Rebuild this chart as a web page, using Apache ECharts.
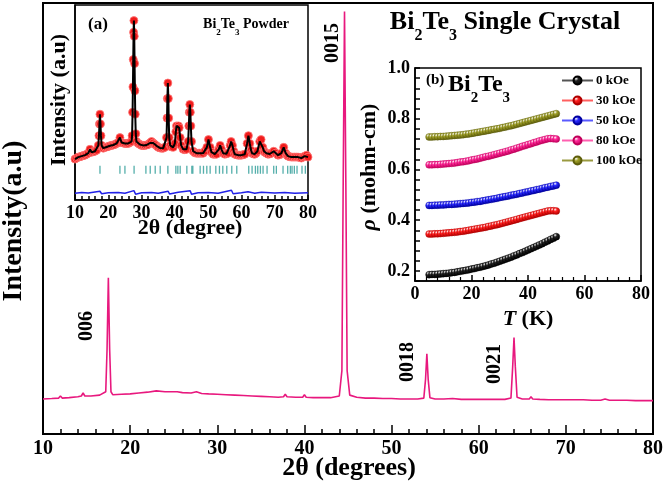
<!DOCTYPE html>
<html>
<head>
<meta charset="utf-8">
<script src="https://cdn.jsdelivr.net/npm/echarts@6/dist/echarts.min.js"></script>
<style>
html, body { margin: 0; padding: 0; background: #fff; }
#chart { width: 666px; height: 488px; }
</style>
</head>
<body>
<div id="chart"></div>
<script>
// 单晶 XRD 主图
var mainTheta = [10, 11, 11.8, 12, 12.2, 13, 14, 14.4, 14.6, 14.8, 15.5, 16.5, 17.2, 17.35, 17.5, 17.65, 17.8, 18,
    19, 20, 21, 22, 23, 24, 25, 25.2, 25.4, 26, 27, 27.6, 28.2, 29, 30, 31, 32, 33, 34, 35, 36, 37, 37.6, 37.8, 38,
    39, 39.8, 40, 40.2, 41, 42, 43, 44, 44.3, 44.45, 44.6, 44.75, 44.9, 45.2, 46, 47, 48, 49, 50, 51, 52, 53, 53.7,
    53.9, 54.05, 54.2, 54.4, 55, 56, 57, 58, 59, 60, 61, 62, 63, 63.7, 63.9, 64.05, 64.2, 64.4, 65, 65.8, 66, 66.2,
    67, 68, 69, 70, 71, 72, 73, 74, 74.5, 75, 76, 77, 78, 79, 80];
var mainIntensity = [0.083, 0.084, 0.085, 0.09, 0.085, 0.086, 0.088, 0.09, 0.097, 0.09, 0.09, 0.092, 0.1, 0.2, 0.37, 0.2, 0.1, 0.093,
    0.094, 0.095, 0.097, 0.099, 0.102, 0.1, 0.1, 0.103, 0.1, 0.098, 0.097, 0.1, 0.096, 0.095, 0.094, 0.093, 0.092, 0.091, 0.09, 0.089, 0.088, 0.087, 0.088, 0.094, 0.088,
    0.087, 0.087, 0.093, 0.087, 0.086, 0.086, 0.086, 0.09, 0.15, 0.6, 1.0, 0.6, 0.15, 0.092, 0.087, 0.085, 0.085, 0.084, 0.084, 0.083, 0.083, 0.083, 0.085,
    0.13, 0.19, 0.13, 0.086, 0.083, 0.083, 0.084, 0.082, 0.082, 0.082, 0.082, 0.082, 0.082, 0.085, 0.16, 0.228, 0.16, 0.087, 0.083, 0.083, 0.088, 0.083,
    0.082, 0.081, 0.081, 0.081, 0.081, 0.081, 0.08, 0.08, 0.083, 0.08, 0.08, 0.08, 0.079, 0.079, 0.079];
var peakNames = ['006', '0015', '0018', '0021'];

// 粉末 XRD (插图 a)
var powderTheta = [10, 10.5, 11, 11.5, 12, 12.5, 13, 13.5, 14, 14.5, 15, 15.5, 16, 16.5, 17, 17.2, 17.35, 17.5, 17.65, 17.8, 18,
    18.5, 19, 19.5, 20, 20.5, 21, 21.5, 22, 22.5, 23, 23.5, 24, 24.5, 25, 25.5, 26, 26.5, 27, 27.15, 27.3, 27.4, 27.5, 27.6,
    27.7, 27.8, 27.9, 28, 28.1, 28.25, 28.45, 29, 29.5, 30, 30.5, 31, 31.5, 32, 32.5, 33, 33.5, 34, 34.5, 35, 35.5, 36,
    36.5, 37, 37.5, 37.65, 37.75, 37.9, 38.05, 38.15, 38.3, 38.6, 39, 39.5, 40, 40.3, 40.5, 40.8, 41.1, 41.3, 41.6, 41.9,
    42.5, 43, 43.5, 44, 44.2, 44.35, 44.5, 44.65, 44.8, 45, 45.5, 46, 46.5, 47, 47.5, 48, 48.5, 49, 49.6, 50.1, 50.6,
    51, 51.5, 52, 52.5, 53.2, 53.6, 54, 54.5, 55, 55.5, 56, 56.6, 56.9, 57.3, 57.7, 58, 58.5, 59, 59.5, 60, 60.5, 61,
    61.7, 62.1, 62.5, 62.9, 63.2, 63.6, 64, 64.4, 64.8, 65.5, 65.9, 66.4, 66.8, 67, 67.5, 68, 68.5, 69, 69.7, 70.3, 71,
    71.5, 72, 72.7, 73.3, 73.7, 74, 74.5, 75, 75.5, 76, 76.5, 77, 77.5, 78, 78.5, 79, 79.6, 80];
var powderIntensity = [0.21, 0.215, 0.22, 0.222, 0.225, 0.228, 0.23, 0.235, 0.24, 0.26, 0.245, 0.248, 0.25, 0.255, 0.28, 0.33, 0.39, 0.44, 0.39, 0.33, 0.28,
    0.266, 0.27, 0.272, 0.275, 0.278, 0.28, 0.282, 0.285, 0.29, 0.295, 0.32, 0.295, 0.292, 0.29, 0.29, 0.29, 0.295, 0.3, 0.33, 0.45, 0.58, 0.72, 0.86,
    0.92, 0.84, 0.7, 0.56, 0.44, 0.34, 0.3, 0.29, 0.285, 0.28, 0.28, 0.28, 0.282, 0.285, 0.292, 0.3, 0.292, 0.285, 0.278, 0.27, 0.267, 0.265,
    0.266, 0.27, 0.32, 0.42, 0.52, 0.6, 0.52, 0.42, 0.32, 0.28, 0.272, 0.27, 0.29, 0.35, 0.38, 0.37, 0.38, 0.37, 0.32, 0.28,
    0.26, 0.258, 0.26, 0.3, 0.38, 0.45, 0.49, 0.45, 0.38, 0.3, 0.25, 0.242, 0.24, 0.24, 0.24, 0.24, 0.24, 0.25, 0.27, 0.31, 0.27,
    0.245, 0.235, 0.235, 0.235, 0.26, 0.28, 0.26, 0.24, 0.235, 0.237, 0.24, 0.28, 0.3, 0.28, 0.25, 0.235, 0.232, 0.23, 0.23, 0.23, 0.232, 0.235,
    0.29, 0.33, 0.29, 0.255, 0.24, 0.236, 0.235, 0.24, 0.25, 0.3, 0.31, 0.27, 0.25, 0.245, 0.24, 0.235, 0.236, 0.24, 0.25, 0.24, 0.23,
    0.232, 0.24, 0.27, 0.24, 0.23, 0.225, 0.222, 0.22, 0.22, 0.22, 0.22, 0.22, 0.218, 0.215, 0.22, 0.225, 0.23, 0.22];
var braggTheta = [17.5, 23.5, 25, 27.75, 31.3, 32.6, 34.1, 35.6, 37.9, 40.3, 40.9, 41.6, 43.6, 45.1, 45.4, 47.6, 48.6, 49.6,
    50.6, 52.3, 53.4, 54.4, 55.6, 57.1, 58.6, 62.2, 63.2, 64.2, 64.9, 65.7, 66.5, 67.7, 69.7, 70.5, 72.5, 73.9, 74.7,
    75.2, 75.9, 76.7, 78.2, 79.2];
var diffTheta = [10, 12, 14, 17.5, 18, 20, 23, 25, 27.7, 28.2, 30, 33, 35, 38, 38.4, 41, 44.6, 45, 47, 50, 53, 57, 57.5,
    60, 62, 64, 66, 70, 73, 76, 80];
var diffIntensity = [0.035, 0.038, 0.036, 0.045, 0.032, 0.037, 0.039, 0.035, 0.048, 0.03, 0.037, 0.039, 0.035, 0.045, 0.031, 0.04, 0.047, 0.03,
    0.037, 0.039, 0.035, 0.05, 0.032, 0.037, 0.042, 0.035, 0.04, 0.036, 0.038, 0.035, 0.037];

// 电阻率 (插图 b)
var tempK = [5, 6, 7, 8, 9, 10, 11, 12, 13, 14, 15, 16, 17, 18, 19, 20, 21, 22, 23, 24, 25, 26, 27, 28, 29, 30,
    31, 32, 33, 34, 35, 36, 37, 38, 39, 40, 41, 42, 43, 44, 45, 46, 47, 48, 49, 50];
var rho0 = [0.185, 0.186, 0.186, 0.187, 0.188, 0.189, 0.19, 0.191, 0.193, 0.194, 0.196, 0.198, 0.2, 0.202, 0.204, 0.207, 0.209, 0.212, 0.214, 0.217,
    0.22, 0.223, 0.227, 0.23, 0.234, 0.238, 0.242, 0.246, 0.25, 0.254, 0.259, 0.263, 0.268, 0.272, 0.277, 0.282, 0.287, 0.292, 0.297, 0.302,
    0.307, 0.313, 0.318, 0.324, 0.329, 0.335];
var rho30 = [0.345, 0.345, 0.346, 0.346, 0.347, 0.348, 0.349, 0.35, 0.351, 0.352, 0.353, 0.355, 0.356, 0.358, 0.36, 0.362, 0.364, 0.366, 0.368, 0.37,
    0.372, 0.375, 0.377, 0.38, 0.382, 0.385, 0.388, 0.391, 0.394, 0.397, 0.4, 0.403, 0.406, 0.409, 0.412, 0.415, 0.418, 0.421, 0.424, 0.427,
    0.43, 0.433, 0.436, 0.437, 0.437, 0.436];
var rho50 = [0.458, 0.458, 0.459, 0.459, 0.46, 0.46, 0.461, 0.462, 0.462, 0.463, 0.464, 0.465, 0.466, 0.467, 0.468, 0.47, 0.471, 0.473, 0.474, 0.476,
    0.478, 0.48, 0.482, 0.484, 0.486, 0.489, 0.491, 0.493, 0.495, 0.498, 0.5, 0.502, 0.505, 0.507, 0.51, 0.512, 0.515, 0.517, 0.52, 0.522,
    0.525, 0.528, 0.53, 0.533, 0.535, 0.538];
var rho80 = [0.618, 0.618, 0.619, 0.619, 0.62, 0.621, 0.622, 0.623, 0.624, 0.625, 0.627, 0.629, 0.63, 0.632, 0.634, 0.637, 0.639, 0.641, 0.644, 0.647,
    0.65, 0.652, 0.655, 0.658, 0.661, 0.664, 0.667, 0.67, 0.673, 0.677, 0.68, 0.684, 0.687, 0.691, 0.694, 0.698, 0.701, 0.705, 0.708, 0.712,
    0.715, 0.718, 0.721, 0.722, 0.721, 0.72];
var rho100 = [0.728, 0.728, 0.729, 0.729, 0.73, 0.73, 0.731, 0.732, 0.733, 0.734, 0.735, 0.736, 0.737, 0.739, 0.74, 0.742, 0.744, 0.746, 0.748, 0.75,
    0.752, 0.754, 0.756, 0.758, 0.76, 0.762, 0.765, 0.767, 0.77, 0.772, 0.775, 0.778, 0.781, 0.784, 0.787, 0.79, 0.793, 0.796, 0.799, 0.802,
    0.805, 0.808, 0.811, 0.814, 0.817, 0.82];
var fieldNames = ['0 kOe', '30 kOe', '50 kOe', '80 kOe', '100 kOe'];

var FONT = 'Liberation Serif';

function pairs(xs, ys) {
    var out = [];
    for (var i = 0; i < xs.length; i++) {
        out.push([xs[i], ys[i]]);
    }
    return out;
}

// 小球的渐变
function ball(c, dark) {
    return new echarts.graphic.RadialGradient(0.35, 0.3, 0.7, [
        { offset: 0, color: '#ffffff' },
        { offset: 0.35, color: c },
        { offset: 1, color: dark }
    ]);
}

// 带下标的文字
function richText(x, y, text, size, subSize, rot) {
    return {
        type: 'text',
        x: x,
        y: y,
        rotation: rot || 0,
        style: {
            text: text,
            align: 'center',
            verticalAlign: 'middle',
            rich: {
                m: { fontFamily: FONT, fontWeight: 'bold', fontSize: size, lineHeight: size + 4, fill: '#000', verticalAlign: 'top' },
                i: { fontFamily: FONT, fontWeight: 'bold', fontStyle: 'italic', fontSize: size, lineHeight: size + 4, fill: '#000', verticalAlign: 'top' },
                s: { fontFamily: FONT, fontWeight: 'bold', fontSize: subSize, lineHeight: subSize, padding: [Math.round(size * 0.9), 0, 0, 0], fill: '#000' },
                p: { fontFamily: FONT, fontWeight: 'bold', fontSize: subSize, lineHeight: size + 4, fill: '#000', verticalAlign: 'top' }
            }
        }
    };
}

function plainText(x, y, text, size, rot) {
    return {
        type: 'text',
        x: x,
        y: y,
        rotation: rot || 0,
        style: {
            text: text,
            align: 'center',
            verticalAlign: 'middle',
            fontFamily: FONT,
            fontWeight: 'bold',
            fontSize: size,
            fill: '#000'
        }
    };
}

var myChart = echarts.init(document.getElementById('chart'));

var boldLabel = function (size) {
    return { fontFamily: FONT, fontWeight: 'bold', fontSize: size, color: '#000' };
};

var rhoSets = [rho0, rho30, rho50, rho80, rho100];
var rhoColors = [['#222222', '#000000'], ['#ff2020', '#b00000'], ['#2a2aff', '#0000a0'], ['#ff2a9a', '#c0005a'], ['#a0a028', '#5e5e0c']];
var lineColors = ['#555555', '#ff6060', '#5a5aff', '#ff60b0', '#9a9a40'];

var rhoSeries = rhoSets.map(function (arr, k) {
    return {
        name: fieldNames[k],
        type: 'line',
        xAxisIndex: 2,
        yAxisIndex: 2,
        data: pairs(tempK, arr),
        symbol: 'circle',
        symbolSize: 7,
        showAllSymbol: true,
        lineStyle: { color: lineColors[k], width: 1 },
        itemStyle: { color: ball(rhoColors[k][0], rhoColors[k][1]), borderColor: rhoColors[k][1], borderWidth: 0.4 },
        z: 5
    };
});

var option = {
    animation: false,
    backgroundColor: '#fff',
    grid: [
        { left: 43, top: 3, right: 10, bottom: 54, show: true, borderColor: '#000', borderWidth: 2, backgroundColor: 'transparent' },
        { left: 75, top: 5, width: 233, height: 195, show: true, borderColor: '#000', borderWidth: 1.5, backgroundColor: '#fff' },
        { left: 415, top: 68, width: 226, height: 213, show: true, borderColor: '#000', borderWidth: 1.5, backgroundColor: '#fff' }
    ],
    legend: {
        data: fieldNames,
        orient: 'vertical',
        left: 561,
        top: 74,
        padding: 0,
        itemWidth: 31,
        itemHeight: 10,
        itemGap: 7,
        textStyle: { fontFamily: FONT, fontWeight: 'bold', fontSize: 13, color: '#000', padding: [0, 0, 0, -2] }
    },
    xAxis: [
        {
            gridIndex: 0, type: 'value', min: 10, max: 80, interval: 10,
            axisLine: { lineStyle: { color: '#000', width: 2 } },
            axisTick: { inside: true, length: 9, lineStyle: { color: '#000', width: 1.5 } },
            minorTick: { show: true, splitNumber: 5, length: 5, lineStyle: { color: '#000', width: 1.5 } },
            axisLabel: Object.assign({ margin: 5 }, boldLabel(20)),
            splitLine: { show: false }
        },
        {
            gridIndex: 1, type: 'value', min: 10, max: 80, interval: 10,
            axisLine: { lineStyle: { color: '#000', width: 1.5 } },
            axisTick: { inside: true, length: 5, lineStyle: { color: '#000', width: 1.5 } },
            minorTick: { show: true, splitNumber: 5, length: 4, lineStyle: { color: '#000', width: 1.5 } },
            axisLabel: Object.assign({ margin: 4 }, boldLabel(18)),
            splitLine: { show: false }
        },
        {
            gridIndex: 2, type: 'value', min: 0, max: 80, interval: 20,
            axisLine: { lineStyle: { color: '#000', width: 1.5 } },
            axisTick: { inside: true, length: 6, lineStyle: { color: '#000', width: 1.5 } },
            minorTick: { show: true, splitNumber: 5, length: 4, lineStyle: { color: '#000', width: 1.2 } },
            axisLabel: Object.assign({ margin: 4 }, boldLabel(18)),
            splitLine: { show: false }
        }
    ],
    yAxis: [
        {
            gridIndex: 0, type: 'value', min: 0, max: 1.02,
            axisLine: { show: true, lineStyle: { color: '#000', width: 2 } },
            axisTick: { show: false }, axisLabel: { show: false }, splitLine: { show: false }
        },
        {
            gridIndex: 1, type: 'value', min: 0, max: 1,
            axisLine: { show: true, lineStyle: { color: '#000', width: 1.5 } },
            axisTick: { show: false }, axisLabel: { show: false }, splitLine: { show: false }
        },
        {
            gridIndex: 2, type: 'value', min: 0.16, max: 1.0, interval: 0.04,
            axisLine: { show: true, lineStyle: { color: '#000', width: 1.5 } },
            axisTick: { inside: true, length: 5, lineStyle: { color: '#000', width: 1.5 } },
            axisLabel: Object.assign({
                margin: 5,
                formatter: function (v) {
                    var k = v * 5;
                    return Math.abs(k - Math.round(k)) < 1e-6 ? v.toFixed(1) : '';
                }
            }, boldLabel(18)),
            splitLine: { show: false }
        }
    ],
    series: [
        {
            type: 'line',
            xAxisIndex: 0, yAxisIndex: 0,
            data: pairs(mainTheta, mainIntensity),
            symbol: 'none',
            lineStyle: { color: '#e8187e', width: 1.6 }
        },
        {
            type: 'line',
            xAxisIndex: 1, yAxisIndex: 1,
            data: pairs(powderTheta, powderIntensity),
            symbol: 'circle',
            symbolSize: 8,
            showAllSymbol: true,
            lineStyle: { opacity: 0 },
            itemStyle: { color: '#f01c1c', borderColor: '#ff7a7a', borderWidth: 0.8 },
            z: 3
        },
        {
            type: 'line',
            xAxisIndex: 1, yAxisIndex: 1,
            data: pairs(powderTheta, powderIntensity),
            symbol: 'none',
            lineStyle: { color: '#000', width: 2 },
            z: 4
        },
        {
            type: 'scatter',
            xAxisIndex: 1, yAxisIndex: 1,
            data: braggTheta.map(function (t) { return [t, 0.155]; }),
            symbol: 'rect',
            symbolSize: [1.3, 8],
            itemStyle: { color: '#2b9b96' },
            z: 4
        },
        {
            type: 'line',
            xAxisIndex: 1, yAxisIndex: 1,
            data: pairs(diffTheta, diffIntensity),
            symbol: 'none',
            lineStyle: { color: '#2020e8', width: 1.5 },
            z: 4
        }
    ].concat(rhoSeries),
    graphic: [
        // 主图文字
        richText(505, 24, '{m|Bi}{s|2}{m|Te}{s|3}{m| Single Crystal}', 26, 16),
        plainText(14, 221, 'Intensity(a.u)', 28, Math.PI / 2),
        richText(349, 470, '{m|2θ (degrees)}', 26, 16),
        plainText(87, 326, peakNames[0], 20, Math.PI / 2),
        plainText(333, 43, peakNames[1], 20, Math.PI / 2),
        plainText(408, 362, peakNames[2], 20, Math.PI / 2),
        plainText(495, 364, peakNames[3], 20, Math.PI / 2),
        // 插图 a
        plainText(98, 25, '(a)', 17),
        richText(246, 26, '{m|Bi}{s|2}{m|Te}{s|3}{m| Powder}', 14, 9),
        plainText(59, 100, 'Intensity (a.u)', 22, Math.PI / 2),
        plainText(190, 228, '2θ (degree)', 22),
        // 插图 b
        richText(468, 87, '{p|(b) }{m|Bi}{s|2}{m|Te}{s|3}', 24, 15),
        richText(371, 167, '{i|ρ}{m| (mohm-cm)}', 22, 14, Math.PI / 2),
        richText(528, 321, '{i|T}{m| (K)}', 22, 14)
    ]
};

myChart.setOption(option);
</script>
</body>
</html>
